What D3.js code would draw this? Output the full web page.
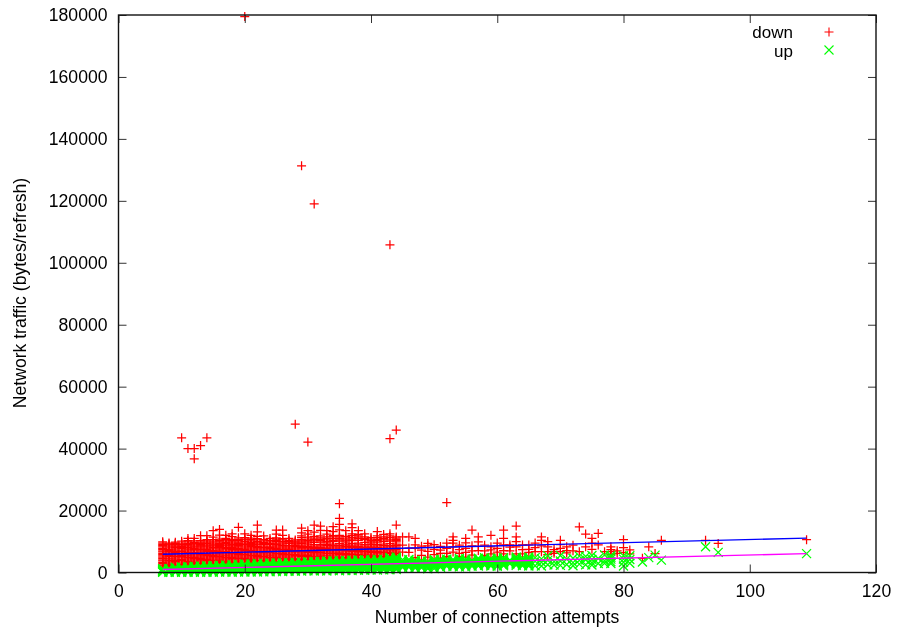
<!DOCTYPE html>
<html>
<head>
<meta charset="utf-8">
<title>Network traffic</title>
<script src="https://cdn.jsdelivr.net/npm/d3@7"></script>
<style>
  html, body { margin: 0; background: #fff; }
  svg { filter: blur(0.3px); }
  text { font-family: "Liberation Sans", Arial, sans-serif; font-size: 17.6px; fill: #000; }
  .legend text { font-size: 17px; }
  .tick line { stroke: #333; stroke-width: 1; }
</style>
</head>
<body>
<div id="graph"></div>
<script>
const xTicks = [0, 20, 40, 60, 80, 100, 120];
const yTicks = [0, 20000, 40000, 60000, 80000, 100000, 120000, 140000, 160000, 180000];
const legendLabels = ['down', 'up'];

const fitAttempts = [7, 109];
const fitDown = [5900, 11100];
const fitUp = [970, 6100];

const attempts = [
  7, 8, 9, 10, 11, 12, 13, 14, 15, 16, 17, 18, 19, 20, 21, 22, 23, 24, 25, 26,
  27, 28, 29, 30, 31, 32, 33, 34, 35, 36, 37, 38, 39, 40, 41, 42, 43, 44,
  45, 46, 47, 48, 49, 50, 51, 52, 53, 54, 55, 56, 57, 58, 59, 60, 61, 62, 63, 64, 65,
  66, 67, 68, 69, 70, 71, 72, 73, 74, 75, 76, 77, 78, 79, 80, 81, 82, 83, 84, 85, 86,
  93, 95, 109,
];

// bytes/refresh per attempt count, same order as attempts
const down = [
  [1700,2100,2500,2950,3300,3750,4100,4600,4950,5400,5800,6200,6650,7000,7450,7800,8300,9100,9900],
  [1800,2250,2600,3050,3450,3800,4300,4650,5100,5500,5900,6300,6700,7150,7500,7950,8500,9500],
  [1900,2300,2700,3100,3500,3950,4350,4700,5200,5600,6000,6400,6850,7200,7600,8100,8600,9000],
  [1850,2200,2650,3000,3400,3900,4250,4750,5150,5500,6050,6350,6800,7250,7700,8150,8800,9500,10100,43500],
  [2000,2400,2750,3200,3550,4000,4400,4800,5250,5650,6000,6450,6900,7300,7650,8050,8500,9100,9900,11000,40000],
  [2100,2450,2900,3250,3700,4050,4500,4850,5300,5700,6100,6500,6950,7350,7800,8200,8900,9700,11000,36700,40000],
  [2150,2500,2950,3350,3750,4150,4550,4950,5350,5750,6200,6600,7000,7400,7850,8300,8800,9400,10300,11900,41000],
  [2200,2600,3000,3400,3800,4200,4650,5050,5450,5800,6250,6700,7050,7500,7900,8250,8900,9800,10600,11900,43500],
  [2250,2650,3050,3450,3900,4300,4700,5100,5500,5900,6300,6750,7150,7600,8000,8500,9200,10100,11400,13500],
  [2300,2700,3150,3500,3950,4350,4750,5150,5600,6000,6400,6800,7200,7650,8050,8450,9000,9900,10800,12100,13900],
  [2350,2750,3200,3600,4000,4400,4800,5250,5650,6050,6450,6850,7300,7700,8100,8600,9300,10200,11000,12000],
  [2400,2800,3250,3650,4050,4450,4900,5300,5700,6100,6500,6950,7350,7750,8150,8550,9100,9900,10700,11600,12500],
  [2450,2850,3300,3700,4100,4550,4950,5350,5750,6200,6600,7000,7400,7800,8250,8700,9400,10300,11200,14600],
  [2500,2900,3350,3750,4150,4600,5000,5400,5800,6250,6650,7050,7450,7900,8300,8800,9500,10500,11300,12500,179500],
  [2550,2950,3400,3800,4250,4650,5050,5450,5900,6300,6700,7100,7550,7950,8350,8750,9300,10200,11100,12000],
  [2600,3000,3450,3850,4300,4700,5100,5500,5950,6350,6750,7200,7600,8000,8400,8900,9600,10500,11700,13100,15300],
  [2650,3100,3500,3950,4350,4750,5150,5600,6000,6400,6850,7250,7650,8050,8500,9000,9700,10600,11800],
  [2700,3150,3550,4000,4400,4800,5250,5650,6050,6500,6900,7300,7700,8100,8550,9100,9900,11000],
  [2750,3200,3600,4050,4450,4900,5300,5700,6100,6550,6950,7350,7750,8200,8600,9000,9500,10400,11200,12400,13700],
  [2800,3250,3650,4100,4500,4950,5350,5750,6200,6600,7000,7400,7850,8250,8650,9200,10000,10900,12000,13700],
  [2850,3300,3700,4150,4550,5000,5400,5800,6250,6650,7050,7500,7900,8300,8700,9300,10000,11000],
  [2900,3300,3750,4200,4600,5050,5450,5850,6300,6700,7100,7550,7950,8350,8750,9200,9800,10500,47900],
  [2900,3350,3800,4200,4650,5100,5500,5900,6350,6750,7150,7600,8000,8400,8800,9400,10200,11300,12800,14300,131300],
  [2950,3400,3850,4250,4700,5100,5550,5950,6400,6800,7250,7650,8050,8450,8900,9500,10300,11400,12400,13500,42100],
  [3000,3450,3850,4300,4700,5150,5600,6000,6450,6850,7300,7700,8100,8550,9000,9700,10600,11700,13000,15300,119000],
  [3000,3450,3900,4350,4750,5200,5600,6050,6500,6900,7350,7750,8150,8600,9100,9800,10700,11800,13600,15000],
  [3100,3500,3950,4400,4800,5250,5650,6100,6550,6950,7350,7800,8200,8650,9050,9600,10500,11500,12400,13500],
  [3100,3550,4000,4400,4850,5300,5700,6150,6550,7000,7400,7850,8250,8700,9200,10000,10900,11900,13200,14800],
  [3150,3600,4050,4450,4900,5300,5750,6200,6600,7050,7450,7900,8300,8750,9300,10100,11000,12000,13800,15500,17500,22200],
  [3200,3600,4050,4500,4900,5350,5800,6200,6650,7100,7500,7950,8350,8800,9200,9800,10500,11700,13500],
  [3200,3650,4100,4550,4950,5400,5850,6250,6700,7100,7550,8000,8400,8850,9400,10300,11300,12500,14500,15700],
  [3250,3700,4150,4550,5000,5450,5850,6300,6750,7150,7600,8000,8450,8900,9500,10400,11400,12300,13500],
  [3300,3700,4200,4600,5050,5500,5900,6350,6800,7200,7650,8050,8500,9000,9700,10600,11500,12500],
  [3350,3800,4250,4650,5100,5550,5950,6400,6850,7250,7700,8100,8550,9000,9500,10300,11300],
  [3400,3800,4250,4700,5150,5550,6000,6450,6850,7300,7750,8150,8600,9100,9800,10700,11800,13200],
  [3400,3850,4300,4750,5150,5600,6050,6500,6900,7350,7800,8200,8650,9200,10000,11000,12300],
  [3450,3900,4350,4800,5200,5650,6100,6500,6950,7400,7800,8250,8700,9300,10100,11300,12500,43200,105800],
  [3500,3950,4400,4800,5250,5700,6150,6550,7000,7450,7850,8300,8750,9200,9900,10700,11500,15300,46000],
  [6600,8800,11500],
  [6500,7900,11500],
  [4800,7800,8900,11000],
  [5500,7200,8500],
  [5000,6800,8600,9400],
  [5800,7500,9000],
  [4600,6200,7200,8400],
  [5100,6200,7800,9500,22600],
  [6600,8300,9500,10400,11500],
  [5200,6200,7400,8800],
  [5000,6500,7800,9600,11000],
  [5600,7000,8600,13700],
  [7100,8400,9900,11500],
  [5500,7000,8800],
  [6000,7300,8300,12000],
  [5000,6600,7800,9500],
  [6000,7100,8900,11000,13700],
  [7000,8200,8900],
  [6000,8300,10000,11500,15000],
  [6000,7400,8900],
  [6500,7500,8900],
  [6700,8000,9500],
  [6700,8600,10400,11500],
  [5800,6700,8300,10000],
  [6200,6700,7400],
  [6700,7800,9000,10400],
  [6300,7100,8300],
  [7000,8800],
  [6700,14700],
  [8300,12400],
  [7500,9500,11000],
  [8900,12600],
  [6700],
  [5800,6700,7400,8300],
  [6200,7000],
  [6400,8000,10600],
  [6000,7300],
  [],
  [4600],
  [8300],
  [6100],
  [10400],
  [10400],
  [9400],
  [10600],
];

// further down readings for attempts 7 to 44, the sparser upper edge of the band
const downUpper = [
  [8700,9500],[8900,9200],[8300,9400,9800],[8400,9100],[8800,9400,10300],[8500,9300,10200],
  [8600,9100,9800],[8600,9400,10200],[8800,9600,10600],[8700,9400,10300],[8900,9700,10600],
  [8800,9500,10300],[9000,9800,10700],[9100,10000,10800],[9000,9700,10600],[9200,10000,10900],
  [9300,10200],[9400,10400],[9200,10000,10800],[9600,10500],[9600,10400],[9500,10100],
  [9800,10600,11800],[9900,10800],[10200,11100],[10300,11200],[10000,11000],[10400,11500],
  [10500,11500],[10200,11100],[10800,11900],[10900,11800],[11000],[9900,10800],[10300,11300],
  [10500,11500],[10500,11800],[10300,11100],
];

const up = [
  [40,330,650,1000],
  [50,350,720,1100],
  [30,380,760,1150,1500],
  [70,420,800,1200,1600],
  [40,400,810,1250,1700],
  [90,460,860,1300,1750],
  [60,480,900,1350,1850],
  [100,500,950,1400,1950],
  [80,520,980,1450,2000],
  [110,540,1000,1500,2100],
  [130,560,1050,1550,2150],
  [90,600,1100,1600,2250],
  [150,620,1120,1700,2350],
  [120,650,1150,1750,2500],
  [180,680,1200,1800,2550],
  [170,700,1250,1850,2600],
  [220,730,1300,1900,2650],
  [240,750,1300,1950,2750],
  [300,800,1350,2000,2800],
  [290,820,1400,2050,2900],
  [350,850,1450,2100,2950],
  [380,900,1500,2150,3000],
  [450,950,1500,2200,3100],
  [520,1000,1550,2250,2800,3250],
  [480,1000,1600,2300,2900,3300],
  [550,1050,1650,2350,2950,3400],
  [500,1100,1700,2400,3000,3450],
  [600,1150,1700,2450,3050,3500],
  [580,1150,1750,2500,3100,3550],
  [650,1200,1800,2550,3150,3600],
  [620,1250,1850,2600,3200,3700],
  [700,1300,1900,2650,3250,3750],
  [720,1300,1950,2650,3300,3800],
  [800,1350,2000,2700,3350,3800],
  [780,1400,2000,2750,3400,3900],
  [850,1450,2050,2800,3450,4000],
  [900,1500,2100,2900,3500,4300,4900],
  [950,1500,2150,2950,3600,4100],
  [1900,2500,3200],
  [1700,2300,3000,3700],
  [1400,2100,2800,3500],
  [1500,2000,2900,3400],
  [1200,1900,2700,3200],
  [1300,2200,3100,3800],
  [2100,2800,3400],
  [2000,2600,3300,4000],
  [1900,2500,3200,3800],
  [2200,2900,3500,4100],
  [1800,2600,3300,3900],
  [2000,2900,3600],
  [2100,2800,3500,4200],
  [2300,3000,3700,4400],
  [2100,2700,3400,4100],
  [2000,2800,3500,4300],
  [2200,3000,3600,4400],
  [2800,3600],
  [2300,3000,3800,4500],
  [2200,2900,3600,4200],
  [2400,3100,3800,4500],
  [2200,3600,4800],
  [2100,3300,4400],
  [2500,3900,5400],
  [2400,3500],
  [2300,3700,5500],
  [2600,4300],
  [2200,3200,4600],
  [2700,3900,5300],
  [2500,4100,5200],
  [2400,3200,4200,5500],
  [2900,4500],
  [3000,3800,5700],
  [2900,3500,4300,4900,5500],
  [],
  [2100,3300,4300,5400],
  [3000,4200,5400],
  [],
  [3400],
  [4800],
  [5600],
  [4000],
  [8300],
  [6500],
  [6100],
];

// more up readings, attempts 7 to 65, in between the ones above
const upMore = [
  [190,490,820,1200],[200,530,900,1300],[200,570,950,1330,1700],[240,610,1000,1400,1800],
  [220,600,1030,1470,1900],[280,660,1080,1520,2000],[270,690,1120,1600,2100],[300,720,1170,1670,2200],
  [300,750,1210,1720,2250],[320,770,1250,1800,2350],[340,800,1300,1850,2450],[350,850,1350,1920,2550],
  [380,870,1410,2020,2650],[380,900,1450,2120,2750],[430,940,1500,2170,2800],[430,970,1550,2220,2900],
  [470,1010,1600,2270,2950],[490,1020,1620,2350,3050],[550,1070,1670,2400,3100],[550,1110,1720,2470,3150],
  [600,1150,1780,2520,3200],[640,1200,1820,2570,3250],[700,1220,1850,2650,3300],[760,1270,1900,2520,3030,3500],
  [740,1300,1950,2600,3100,3550],[800,1350,2000,2650,3170,3650],[800,1400,2050,2720,3220,3700],
  [870,1420,2070,2770,3270,3800],[860,1450,2120,2820,3320,3850],[920,1500,2170,2870,3370,3900],
  [960,1570,2220,2950,3470,4000],[1010,1600,2270,3000,3520,4050],[1000,1620,2320,3020,3570,4100],
  [1070,1670,2350,3050,3620,4100],[1090,1700,2370,3070,3670,4200],[1170,1770,2420,3170,3720,4300],
  [1200,1800,2500,3200,3900,4600],[1220,1820,2550,3270,3850,4500,5000],
  [1600,2200,2900,3600,4100],[2000,2600,3400,4200],[1700,2400,3200,3900],[1800,2500,3100,3800],
  [1500,2300,3000,3600],[1800,2600,3400,4200],[1700,2400,3100,3700,4300],[2300,3000,3600,4300],
  [2200,2800,3500,4200],[1800,2500,3200,3800,4500],[2200,3000,3600,4400],[2400,3300,4000],
  [2400,3100,3900,4600],[2600,3300,4100,4800],[2400,3000,3800,4500],[2300,3200,3900,4700],
  [2600,3300,4000,4800],[3200,4000],[2700,3400,4200,5000],[2500,3300,3900,4700],
  [2100,2700,3500,4200,5000],
];

const width = 897;
const height = 631;
const margin = { top: 15, right: 21, bottom: 58.5, left: 118.5 };

const x = d3.scaleLinear().domain([0, 120]).range([margin.left, width - margin.right]);
const y = d3.scaleLinear().domain([0, 180000]).range([height - margin.bottom, margin.top]);

const svg = d3.select('#graph').append('svg')
  .attr('width', width)
  .attr('height', height)
  .attr('viewBox', [0, 0, width, height])
  .style('display', 'block');

function flatten(...tables) {
  return attempts.flatMap((a, i) => tables.flatMap((t) => (t[i] || []).map((v) => ({ a, v }))));
}

const plus = d3.symbol().type({
  draw(ctx) {
    ctx.moveTo(-4.5, 0); ctx.lineTo(4.5, 0);
    ctx.moveTo(0, -4.5); ctx.lineTo(0, 4.5);
  },
})();
const cross = d3.symbol().type({
  draw(ctx) {
    ctx.moveTo(-4.5, -4.5); ctx.lineTo(4.5, 4.5);
    ctx.moveTo(-4.5, 4.5); ctx.lineTo(4.5, -4.5);
  },
})();

function drawPoints(data, path, color) {
  svg.append('g')
    .attr('fill', 'none')
    .attr('stroke', color)
    .attr('stroke-width', 1.25)
    .selectAll('path')
    .data(data)
    .join('path')
    .attr('d', path)
    .attr('transform', (d) => `translate(${x(d.a)},${y(d.v)})`);
}

drawPoints(flatten(down, downUpper), plus, '#ff0000');
drawPoints(flatten(up, upMore), cross, '#00ff00');

const line = d3.line().x((d) => x(d[0])).y((d) => y(d[1]));
svg.append('path')
  .attr('d', line(d3.zip(fitAttempts, fitDown)))
  .attr('fill', 'none').attr('stroke', '#0000ff').attr('stroke-width', 1.4);
svg.append('path')
  .attr('d', line(d3.zip(fitAttempts, fitUp)))
  .attr('fill', 'none').attr('stroke', '#ff00ff').attr('stroke-width', 1.4);

// axes, mirrored on top and right without labels
const bottomY = height - margin.bottom;
const rightX = width - margin.right;
svg.append('g').attr('transform', `translate(0,${bottomY})`)
  .call(d3.axisBottom(x).tickValues(xTicks).tickSize(-8).tickPadding(12))
  .call((g) => g.select('.domain').remove());
svg.append('g').attr('transform', `translate(0,${margin.top})`)
  .call(d3.axisTop(x).tickValues(xTicks).tickSize(-8).tickFormat(''))
  .call((g) => g.select('.domain').remove());
svg.append('g').attr('transform', `translate(${margin.left},0)`)
  .call(d3.axisLeft(y).tickValues(yTicks).tickSize(-8).tickPadding(11).tickFormat(d3.format('d')))
  .call((g) => g.select('.domain').remove());
svg.append('g').attr('transform', `translate(${rightX},0)`)
  .call(d3.axisRight(y).tickValues(yTicks).tickSize(-8).tickFormat(''))
  .call((g) => g.select('.domain').remove());
svg.selectAll('g').attr('font-family', null).attr('font-size', null);

svg.append('rect')
  .attr('x', margin.left).attr('y', margin.top)
  .attr('width', rightX - margin.left).attr('height', bottomY - margin.top)
  .attr('fill', 'none').attr('stroke', '#111').attr('stroke-width', 1.4);

svg.append('text')
  .attr('x', 497).attr('y', 623)
  .attr('text-anchor', 'middle')
  .text('Number of connection attempts');
svg.append('text')
  .attr('transform', 'translate(26,293) rotate(-90)')
  .attr('text-anchor', 'middle')
  .text('Network traffic (bytes/refresh)');

// legend
const legend = svg.append('g').attr('class', 'legend');
legendLabels.forEach((label, i) => {
  const ly = 32 + i * 18;
  legend.append('text')
    .attr('x', 793).attr('y', i === 0 ? 37.5 : 57)
    .attr('text-anchor', 'end')
    .text(label);
  legend.append('path')
    .attr('d', i === 0 ? plus : cross)
    .attr('transform', `translate(829,${ly})`)
    .attr('fill', 'none')
    .attr('stroke', i === 0 ? '#ff0000' : '#00ff00')
    .attr('stroke-width', 1.1);
});
</script>
</body>
</html>
